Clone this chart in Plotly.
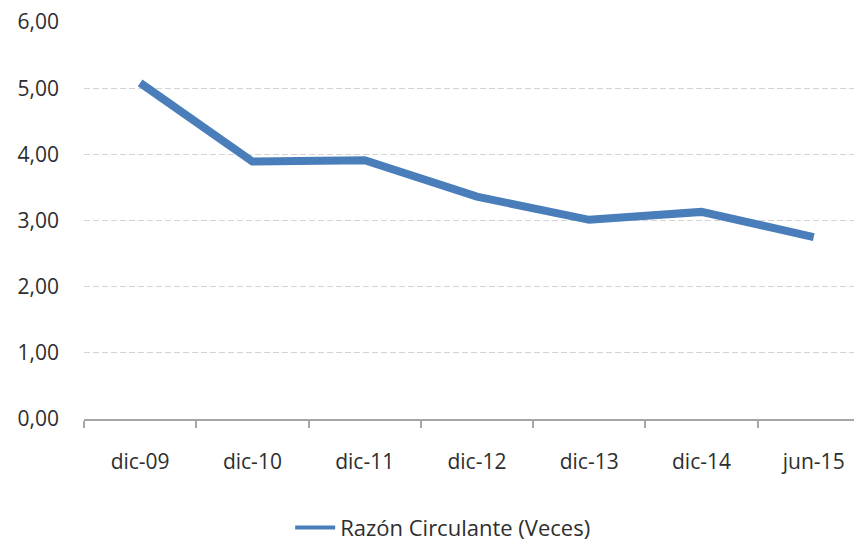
import plotly.graph_objects as go

categories = ["dic-09", "dic-10", "dic-11", "dic-12", "dic-13", "dic-14", "jun-15"]
values = [5.08, 3.89, 3.91, 3.36, 3.01, 3.13, 2.75]
series_name = "Razón Circulante (Veces)"
y_ticks = [0, 1, 2, 3, 4, 5, 6]

line_color = "#4A7EBB"
text_color = "#2E2E2E"

fig = go.Figure()
fig.add_trace(go.Scatter(
    x=categories, y=values, mode="lines", name=series_name, showlegend=False,
    line=dict(color=line_color, width=8),
))
fig.add_trace(go.Scatter(
    x=[None], y=[None], mode="lines", name=series_name, showlegend=True,
    line=dict(color=line_color, width=4), hoverinfo="skip",
))

fig.update_layout(
    width=854, height=533,
    margin=dict(l=76, r=0, t=14, b=122, autoexpand=False),
    paper_bgcolor="white", plot_bgcolor="white",
    separators=",.",
    font=dict(family="Open Sans", size=21, color=text_color),
    showlegend=True,
    legend=dict(orientation="h", x=0.461, xanchor="center", xref="paper",
                y=0.025, yanchor="middle", yref="container",
                font=dict(size=22, color=text_color), itemwidth=40),
    xaxis=dict(
        type="category", range=[-0.5, 6.43], automargin=False,
        showline=True, linecolor="#A6A6A6", linewidth=2,
        ticks="outside", tickson="boundaries", ticklen=7, tickcolor="#A6A6A6", tickwidth=2,
        showgrid=False, ticklabelstandoff=23, ticklabeloverflow="allow",
        tickfont=dict(size=21, color=text_color),
    ),
    yaxis=dict(
        range=[0, 6], tickvals=y_ticks, tickformat=".2f", automargin=False,
        showgrid=True, gridcolor="#D4D4D4", griddash="6px,3px", gridwidth=1,
        zeroline=False, showline=False, ticks="", ticklabelstandoff=24,
        ticklabeloverflow="allow",
        tickfont=dict(size=21, color=text_color),
    ),
)

fig.write_html("out.html")
